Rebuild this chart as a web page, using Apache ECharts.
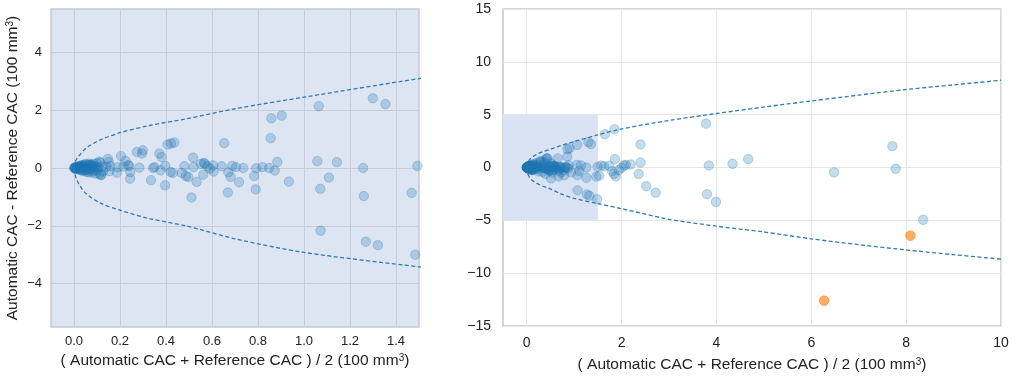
<!DOCTYPE html>
<html>
<head>
<meta charset="utf-8">
<script src="https://cdn.jsdelivr.net/npm/echarts@6/dist/echarts.min.js"></script>
<style>
  html, body { margin: 0; padding: 0; background: #ffffff; }
  #chart { width: 1020px; height: 379px; }
</style>
</head>
<body>
<div id="chart"></div>
<script>
// Bland-Altman: mean of the two CAC scores vs their difference (100 mm3)
const meanCAC = [
  0.000, 0.002, 0.004, 0.005, 0.006, 0.008, 0.010, 0.010, 0.012, 0.014, 0.015, 0.017, 0.018, 0.020, 0.021,
  0.023, 0.025, 0.026, 0.028, 0.030, 0.031, 0.033, 0.035, 0.036, 0.038, 0.040, 0.042, 0.044, 0.046, 0.048,
  0.050, 0.052, 0.054, 0.056, 0.058, 0.060, 0.062, 0.064, 0.066, 0.068, 0.070, 0.072, 0.074, 0.076, 0.078,
  0.080, 0.082, 0.085, 0.088, 0.090, 0.093, 0.096, 0.099, 0.102, 0.106, 0.110, 0.114, 0.118, 0.122, 0.126,
  0.013, 0.027, 0.045, 0.057, 0.067, 0.083, 0.030, 0.050, 0.070,
  0.110, 0.147, 0.151, 0.118, 0.154, 0.140, 0.158, 0.205, 0.190, 0.215, 0.235, 0.240, 0.245, 0.244, 0.186,
  0.224, 0.284, 0.273, 0.299, 0.296, 0.335, 0.350, 0.344, 0.371, 0.381, 0.397, 0.376, 0.396, 0.407, 0.422,
  0.436, 0.420, 0.430, 0.480, 0.468, 0.486, 0.497, 0.518, 0.511, 0.533, 0.520, 0.552, 0.565, 0.569, 0.562,
  0.580, 0.591, 0.605, 0.607, 0.642, 0.653, 0.669, 0.671, 0.681, 0.688, 0.704, 0.718, 0.736, 0.783, 0.790,
  0.792, 0.819, 0.848, 0.855, 0.858, 0.873, 0.884, 0.903, 0.934, 1.058, 1.064, 1.071, 1.072, 1.108, 1.143,
  1.257, 1.260, 1.269, 1.299, 1.321, 1.354, 1.468, 1.484, 1.493,
  1.570, 1.630, 1.740, 1.530, 1.650, 1.850, 1.860, 1.800, 1.840, 1.880, 1.940, 2.000, 2.050, 2.090, 2.190,
  2.400, 2.400, 2.360, 2.520, 2.720, 3.780, 3.840, 4.340, 4.670, 3.800, 3.990, 6.480, 7.710, 7.780, 8.360
];
const diffCAC = [
  0.00, 0.01, -0.01, 0.02, -0.02, 0.01, 0.03, -0.03, 0.00, 0.04, -0.04, 0.02, -0.01, 0.05, -0.05,
  0.01, 0.06, -0.03, 0.08, -0.07, 0.02, 0.10, -0.09, 0.04, -0.02, 0.09, -0.11, 0.05, 0.12, -0.06,
  0.01, 0.14, -0.13, 0.07, -0.04, 0.11, -0.15, 0.03, 0.15, -0.09, 0.06, -0.02, 0.12, -0.16, 0.09,
  0.02, -0.11, 0.14, -0.05, 0.07, -0.19, 0.04, 0.16, -0.08, 0.02, -0.21, 0.19, -0.25, 0.05, -0.12,
  0.00, 0.00, 0.00, -0.01, 0.00, 0.01, 0.05, -0.07, 0.10,
  0.22, 0.32, 0.21, -0.23, -0.11, 0.04, 0.07, 0.41, 0.03, 0.05, 0.10, 0.07, -0.14, -0.37, -0.16,
  0.24, 0.01, 0.55, 0.61, 0.50, -0.42, 0.03, 0.00, 0.50, 0.38, 0.07, -0.08, -0.60, 0.81, 0.85,
  0.88, -0.14, -0.17, 0.06, -0.17, -0.28, -0.31, 0.36, -1.02, -0.48, 0.03, 0.15, 0.17, 0.15, -0.23,
  0.06, -0.02, 0.09, -0.12, 0.06, 0.86, -0.85, -0.15, -0.31, 0.07, 0.03, -0.49, 0.00, -0.28, -0.74,
  -0.01, 0.03, 0.00, 1.03, 1.72, -0.09, 0.21, 1.81, -0.47, 0.24, 2.14, -0.72, -2.17, -0.33, 0.20,
  0.00, -0.97, -2.55, 2.41, -2.67, 2.21, -0.86, -3.00, 0.07,
  0.18, 0.12, 0.16, -0.78, 3.15, 3.62, 0.79, -0.35, -0.62, -0.85, -0.25, -0.03, 0.20, 0.25, 0.28,
  0.47, 2.18, -0.62, -1.77, -2.38, 4.15, 0.19, 0.35, 0.79, -2.53, -3.26, -0.47, 2.02, -0.13, -4.95
];
// highlighted cases (orange)
const outlierMean = [6.27, 8.09];
const outlierDiff = [-12.6, -6.45];

// limits of agreement
const limitMean = [0, 0.001, 0.003, 0.01, 0.024, 0.053, 0.111, 0.2, 0.328, 0.487, 0.7, 1.0, 1.5, 2, 3, 4, 5, 6, 7, 8, 9, 10];
const limitUpper = [0, 0.09, 0.16, 0.29, 0.44, 0.69, 0.96, 1.22, 1.47, 1.70, 2.05, 2.45, 3.09, 3.65, 4.45, 5.11, 5.72, 6.30, 6.85, 7.38, 7.82, 8.26];
const limitLower = [0, -0.10, -0.19, -0.36, -0.60, -0.89, -1.20, -1.46, -1.75, -2.00, -2.45, -2.92, -3.42, -3.90, -4.90, -5.55, -6.10, -6.75, -7.30, -7.80, -8.25, -8.67];

// tick labels
const leftXTicks = [0, 0.2, 0.4, 0.6, 0.8, 1.0, 1.2, 1.4];
const leftYTicks = [-4, -2, 0, 2, 4];
const rightXTicks = [0, 2, 4, 6, 8, 10];

// zoomed region shown in the left panel, drawn as a box on the right panel
const zoomBoxX = [-0.5, 1.5];
const zoomBoxY = [-5, 5];

const pts = meanCAC.map((m, i) => [m, diffCAC[i]]);
const outPts = outlierMean.map((m, i) => [m, outlierDiff[i]]);
const upperPts = limitMean.map((m, i) => [m, limitUpper[i]]);
const lowerPts = limitMean.map((m, i) => [m, limitLower[i]]);

const FONT = '"Liberation Sans", Arial, sans-serif';
const minus = v => String(v).replace('-', '\u2212');
const supRich = {
  sup: { fontSize: 10, fontFamily: FONT, color: '#222', verticalAlign: 'top', lineHeight: 12, padding: [0, 0, 7, 0] }
};
const xName = '( Automatic CAC + Reference CAC ) / 2 (100 mm{sup|3})';
const yName = 'Automatic CAC - Reference CAC (100 mm{sup|3})';

const dotStyle = {
  color: 'rgba(31,119,180,0.33)',
  borderColor: 'rgba(31,119,180,0.33)',
  borderWidth: 1
};
const dashStyle = { color: '#2f7ab8', width: 1.3, type: [4, 2.5] };

const chart = echarts.init(document.getElementById('chart'), null, { renderer: 'canvas' });

chart.setOption({
  animation: false,
  backgroundColor: '#ffffff',
  textStyle: { fontFamily: FONT },
  grid: [
    { left: 51, top: 9, width: 368, height: 318, show: true, backgroundColor: '#dde5f3', borderColor: '#c3cad6', borderWidth: 1.5 },
    { left: 503, top: 9, width: 498, height: 318, show: true, backgroundColor: '#ffffff', borderColor: '#c8c8c8', borderWidth: 1.5 }
  ],
  xAxis: [
    {
      gridIndex: 0, type: 'value', min: -0.1, max: 1.5,
      name: xName, nameLocation: 'middle', nameGap: 26,
      nameTextStyle: { fontSize: 15.5, color: '#222', fontFamily: FONT, rich: supRich },
      axisLine: { show: false },
      axisTick: { show: false, customValues: leftXTicks },
      axisLabel: { customValues: leftXTicks, formatter: v => v.toFixed(1), fontSize: 13, color: '#222', margin: 8 },
      splitLine: { show: true, lineStyle: { color: '#c6cdd9', width: 1 } }
    },
    {
      gridIndex: 1, type: 'value', min: -0.5, max: 10,
      name: xName, nameLocation: 'middle', nameGap: 31,
      nameTextStyle: { fontSize: 15.5, color: '#222', fontFamily: FONT, rich: supRich },
      axisLine: { show: false },
      axisTick: { show: false, customValues: rightXTicks },
      axisLabel: { customValues: rightXTicks, fontSize: 14, color: '#222', margin: 10 },
      splitLine: { show: true, lineStyle: { color: '#e6e6e6', width: 1 } }
    }
  ],
  yAxis: [
    {
      gridIndex: 0, type: 'value', min: -5.5, max: 5.5,
      name: yName, nameLocation: 'middle', nameGap: 30,
      nameTextStyle: { fontSize: 15.5, color: '#222', fontFamily: FONT, rich: supRich },
      axisLine: { show: false },
      axisTick: { show: false, customValues: leftYTicks },
      axisLabel: { customValues: leftYTicks, formatter: minus, fontSize: 13, color: '#222', margin: 9 },
      splitLine: { show: true, lineStyle: { color: '#c6cdd9', width: 1 } }
    },
    {
      gridIndex: 1, type: 'value', min: -15, max: 15, interval: 5,
      axisLine: { show: false },
      axisTick: { show: false },
      axisLabel: { formatter: minus, fontSize: 14, color: '#222', margin: 12 },
      splitLine: { show: true, lineStyle: { color: '#e6e6e6', width: 1 } }
    }
  ],
  series: [
    {
      type: 'scatter', xAxisIndex: 0, yAxisIndex: 0, data: pts,
      symbolSize: 9.5, itemStyle: dotStyle, clip: true, z: 3
    },
    {
      type: 'line', xAxisIndex: 0, yAxisIndex: 0, data: upperPts, smooth: 0.3,
      showSymbol: false, lineStyle: dashStyle, clip: true, z: 4
    },
    {
      type: 'line', xAxisIndex: 0, yAxisIndex: 0, data: lowerPts, smooth: 0.3,
      showSymbol: false, lineStyle: dashStyle, clip: true, z: 4
    },
    {
      type: 'scatter', xAxisIndex: 1, yAxisIndex: 1, data: pts,
      symbolSize: 9.5, itemStyle: dotStyle, clip: true, z: 3,
      markArea: {
        silent: true,
        itemStyle: { color: '#dae3f3' },
        data: [[{ coord: [zoomBoxX[0], zoomBoxY[1]] }, { coord: [zoomBoxX[1], zoomBoxY[0]] }]]
      }
    },
    {
      type: 'scatter', xAxisIndex: 1, yAxisIndex: 1, data: outPts,
      symbolSize: 9.5, itemStyle: { color: 'rgba(255,127,14,0.8)', borderColor: 'rgba(255,127,14,0.8)', borderWidth: 1 },
      clip: true, z: 3
    },
    {
      type: 'line', xAxisIndex: 1, yAxisIndex: 1, data: upperPts, smooth: 0.3,
      showSymbol: false, lineStyle: dashStyle, clip: true, z: 4
    },
    {
      type: 'line', xAxisIndex: 1, yAxisIndex: 1, data: lowerPts, smooth: 0.3,
      showSymbol: false, lineStyle: dashStyle, clip: true, z: 4
    }
  ]
});
</script>
</body>
</html>
